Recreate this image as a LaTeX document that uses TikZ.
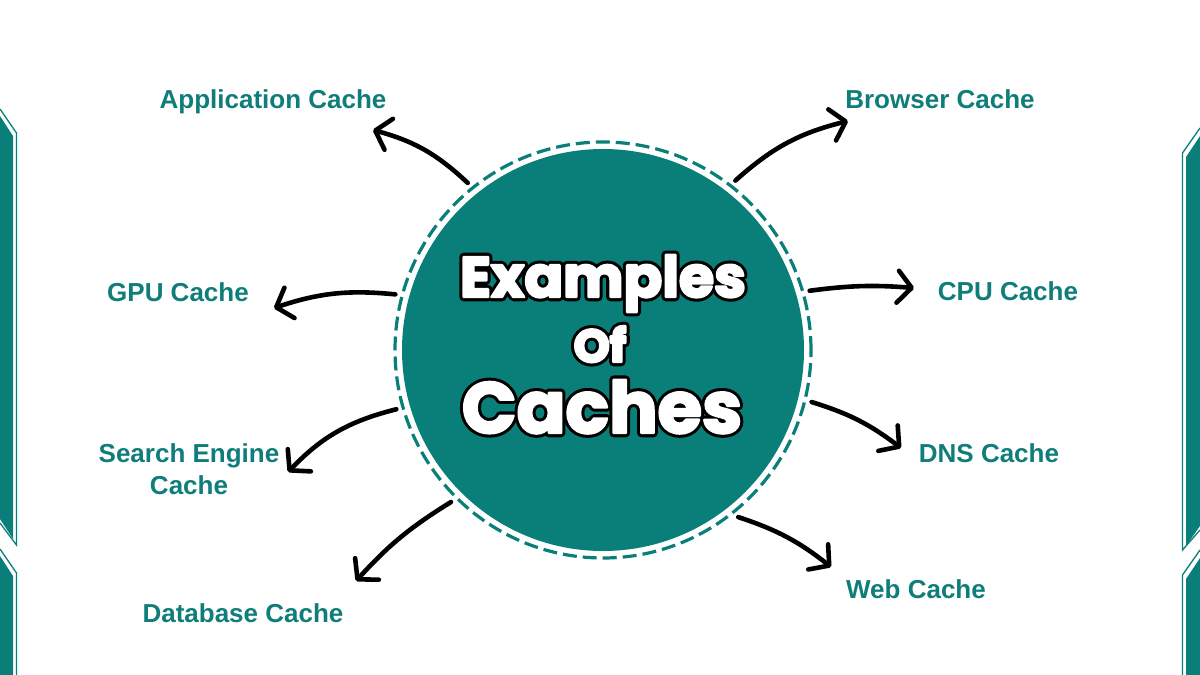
\documentclass[tikz,border=0pt]{standalone}
\usepackage{fontspec}
\usepackage{xcolor}
\setmainfont{Liberation Sans}
\newfontfamily\titlefont{Poppins}[BoldFont=* Bold]
\usetikzlibrary{arrows.meta, positioning, calc}
\definecolor{labteal}{HTML}{0F7D79}
\definecolor{hubteal}{HTML}{0A7F79}
% white letters with a black rim: a wide black stroke under a white one
\newcommand{\rimtext}[1]{\rlap{\color{black}\special{pdf:literal direct 0 G 2 Tr 8.5 w 1 j}#1\special{pdf:literal direct 0 Tr 1 w}}{\color{white}\special{pdf:literal direct 1 G 2 Tr 2.4 w 1 j}#1\special{pdf:literal direct 0 Tr 1 w}}}

\begin{document}
\begin{tikzpicture}[
    x=1pt, y=1pt,
    lbl/.style={font=\bfseries\fontsize{26}{32}\selectfont, text=labteal, align=center, inner sep=0pt},
    hub/.style={circle, fill=hubteal, minimum size=402pt, inner sep=0pt, outer sep=14pt},
    ring/.style={draw=hubteal, line width=3.2pt, dash pattern=on 14pt off 6pt},
    ttl/.style={font=\titlefont\bfseries, anchor=base, inner sep=0pt},
    arr/.style={-{Straight Barb[length=14pt, width=32pt, round]}, line width=4.6pt, line cap=round},
    band/.style={fill=hubteal},
    bandline/.style={draw=hubteal, line width=1.3pt}
]
\useasboundingbox[fill=white] (0,0) rectangle (1200,-675);

% side bands
\fill[band] (0,-116) -- (13,-136) -- (13,-539) -- (0,-519) -- cycle;
\draw[bandline] (0,-109) -- (16.5,-133) -- (16.5,-545) -- (0,-523);
\fill[band] (0,-556) -- (13,-576) -- (13,-675) -- (0,-675) -- cycle;
\draw[bandline] (0,-549) -- (16.5,-573) -- (16.5,-675);
\fill[band] (1200,-136) -- (1186,-157) -- (1186,-546) -- (1200,-526) -- cycle;
\draw[bandline] (1200,-128) -- (1182.5,-153) -- (1182.5,-550) -- (1200,-530);
\fill[band] (1200,-558) -- (1186,-579) -- (1186,-675) -- (1200,-675) -- cycle;
\draw[bandline] (1200,-550) -- (1182.5,-575) -- (1182.5,-675);

% centre
\node[hub] (hub) at (603,-350) {};
\draw[ring] (hub.center) circle[radius=208];
\node[ttl, font=\titlefont\bfseries\fontsize{57}{57}\selectfont] (t1) at (603,-297) {\rimtext{Examples}};
\node[ttl, font=\titlefont\bfseries\fontsize{46}{46}\selectfont] (t2) at (600,-362) {\rimtext{Of}};
\node[ttl, font=\titlefont\bfseries\fontsize{72}{72}\selectfont] (t3) at (602,-433) {\rimtext{Caches}};

% labels
\node[lbl, anchor=base] (app) at (273,-108) {Application Cache};
\node[lbl, anchor=base] (brw) at (940,-108) {Browser Cache};
\node[lbl, anchor=base] (gpu) at (178,-301) {GPU Cache};
\node[lbl, anchor=base] (cpu) at (1008,-300) {CPU Cache};
\node[lbl] (srch) at (189,-469) {Search Engine\\Cache};
\node[lbl, anchor=base] (dns) at (989,-462) {DNS Cache};
\node[lbl, anchor=base] (db) at (243,-622) {Database Cache};
\node[lbl, anchor=base] (web) at (916,-598) {Web Cache};

% arrow ends
\coordinate (appTip) at (373,-130);
\coordinate (brwTip) at (848,-121);
\coordinate (gpuTip) at (274,-308);
\coordinate (cpuTip) at (914,-288);
\coordinate (srchTip) at (288,-472);
\coordinate (dnsTip) at (901,-448);
\coordinate (dbTip) at (356,-581);
\coordinate (webTip) at (831,-567);

\draw[arr] (hub.129) to[bend right=14] (appTip);
\draw[arr] (hub.52) to[bend left=14] (brwTip);
\draw[arr] (hub.165) to[bend right=12] (gpuTip);
\draw[arr] (hub.16) to[bend left=6] (cpuTip);
\draw[arr] (hub.196) to[bend right=16] (srchTip);
\draw[arr] (hub.-14) to[bend left=10] (dnsTip);
\draw[arr] (hub.225) to[bend right=8] (dbTip);
\draw[arr] (hub.-51) to[bend left=10] (webTip);
\end{tikzpicture}
\end{document}
